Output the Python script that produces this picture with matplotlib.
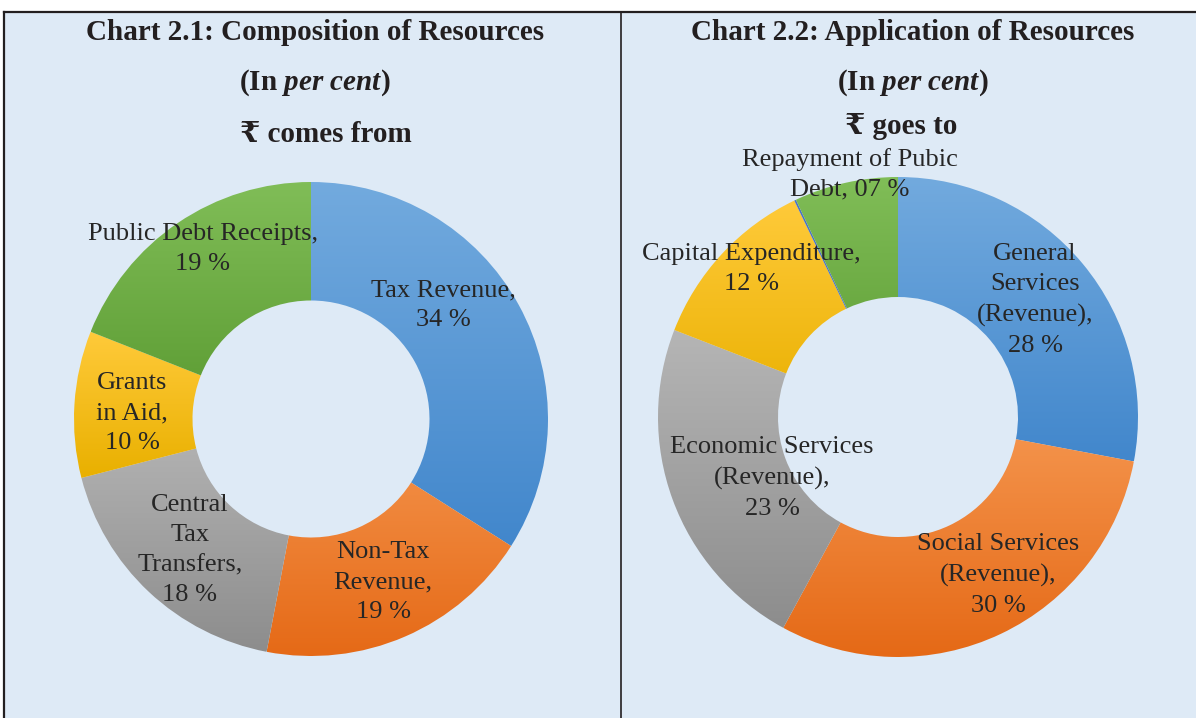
import numpy as np
import matplotlib
matplotlib.use('Agg')
import matplotlib.pyplot as plt
from matplotlib.colors import to_rgb
from matplotlib.patches import Rectangle
from matplotlib.lines import Line2D

# Chart 2.1 - where the rupee comes from
src_labels = ['Tax Revenue,\n34 %', 'Non-Tax\nRevenue,\n19 %',
              'Central\nTax\nTransfers,\n18 %', 'Grants\nin Aid,\n10 %',
              'Public Debt Receipts,\n19 %']
src_values = [34, 19, 18, 10, 19]

# Chart 2.2 - where the rupee goes
app_labels = ['General\nServices\n(Revenue),\n28 %', 'Social Services\n(Revenue),\n30 %',
              'Economic Services\n(Revenue),\n23 %', 'Capital Expenditure,\n12 %',
              '', 'Repayment of Pubic\nDebt, 07 %']
app_values = [28, 30, 23, 12, 0.12, 7]

# gradient colours (top, bottom)
blue = ('#72aade', '#4287cc')
orange = ('#f5964f', '#e56916')
grey = ('#b5b5b5', '#8d8d8d')
yellow = ('#ffca3a', '#e9b000')
green = ('#80bd57', '#5a9a31')
thin = ('#4a74c4', '#4a74c4')
src_colors = [blue, orange, grey, yellow, green]
app_colors = [blue, orange, grey, yellow, thin, green]

# label spots (axes data units, radius = 1)
src_pos = [(0.557, 0.481), (0.304, -0.688), (-0.511, -0.553),
           (-0.755, 0.025), (-0.456, 0.717)]
app_pos = [(0.571, 0.487), (0.417, -0.658), (-0.525, -0.254),
           (-0.612, 0.617), (0, 0), (-0.2, 1.012)]

W, H = 1196, 718
BG = '#deeaf6'
serif = ['Liberation Serif', 'DejaVu Serif']

plt.rcParams['mathtext.fontset'] = 'custom'
plt.rcParams['mathtext.it'] = 'Liberation Serif:italic:bold'
plt.rcParams['mathtext.rm'] = 'Liberation Serif:bold'


def donut(cx, cy, R, values, colors, labels, pos):
    ax = fig.add_axes([(cx - R) / W, (H - cy - R) / H, 2 * R / W, 2 * R / H])
    wedges, _ = ax.pie(values, startangle=90, counterclock=False, radius=1,
                       wedgeprops=dict(width=0.5, linewidth=0))
    for w, (c1, c2) in zip(wedges, colors):
        w.set_facecolor('none')
        verts = w.get_path().vertices
        x0, y0 = verts.min(axis=0)
        x1, y1 = verts.max(axis=0)
        t = np.linspace(0, 1, 64)[:, None]
        grad = (1 - t) * np.array(to_rgb(c1)) + t * np.array(to_rgb(c2))
        im = ax.imshow(grad[:, None, :], extent=[x0, x1, y0, y1],
                       aspect='auto', interpolation='bilinear', zorder=1)
        im.set_clip_path(w)
    for lab, (x, y) in zip(labels, pos):
        if lab:
            ax.text(x, y, lab, ha='center', va='center', fontsize=19,
                    family=serif, color='#262626', linespacing=1.47, zorder=3)
    ax.set_xlim(-1, 1)
    ax.set_ylim(-1, 1)
    ax.axis('off')
    return ax


fig = plt.figure(figsize=(W / 100, H / 100), dpi=100)
fig.patch.set_facecolor('white')
fig.add_artist(Rectangle((4 / W, 0), 1 - 4 / W, (H - 12) / H,
                         transform=fig.transFigure, facecolor=BG,
                         edgecolor='none', zorder=0))
fig.add_artist(Line2D([4 / W, 1], [(H - 12) / H] * 2, color='#231f20', lw=1.6))
fig.add_artist(Line2D([4 / W] * 2, [0, (H - 12) / H], color='#231f20', lw=1.6))
fig.add_artist(Line2D([620.5 / W] * 2, [0, (H - 12) / H], color='#231f20', lw=1.2))

tkw = dict(ha='center', va='center', fontsize=21, fontweight='bold',
           family=serif, color='#231f20')
fig.text(315 / W, 1 - 33 / H, 'Chart 2.1: Composition of Resources', **tkw)
fig.text(315 / W, 1 - 83 / H, '(In $\\mathit{per\\ cent}$)', **tkw)
fig.text(326 / W, 1 - 135 / H, '\u20b9 comes from', **tkw)
fig.text(913 / W, 1 - 33 / H, 'Chart 2.2: Application of Resources', **tkw)
fig.text(913 / W, 1 - 83 / H, '(In $\\mathit{per\\ cent}$)', **tkw)
fig.text(901 / W, 1 - 126 / H, '\u20b9 goes to', **tkw)

donut(311, 419, 237, src_values, src_colors, src_labels, src_pos)
donut(898, 417, 240, app_values, app_colors, app_labels, app_pos)

fig.savefig('out.png', dpi=100, facecolor=fig.get_facecolor())
